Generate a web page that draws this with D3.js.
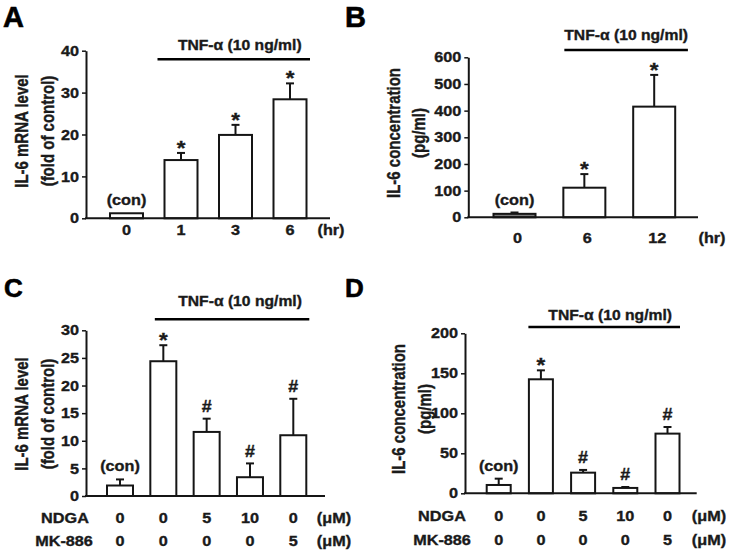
<!DOCTYPE html>
<html>
<head>
<meta charset="utf-8">
<script src="https://cdn.jsdelivr.net/npm/d3@7"></script>
<style>
  body { margin: 0; background: #fff; }
  svg text { font-family: "Liberation Sans", Arial, sans-serif; font-weight: bold; fill: #1a1a1a; stroke: #1a1a1a; stroke-width: 0.35px; }
</style>
</head>
<body>
<svg id="fig"></svg>
<script>
// ---- data ----
const catsA = ["0", "1", "3", "6"];
const meanA = [1.2, 13.9, 19.9, 28.4];
const sdA = [0, 1.7, 2.4, 3.8];
const marksA = ["(con)", "*", "*", "*"];
const ticksA = [0, 10, 20, 30, 40];

const catsB = ["0", "6", "12"];
const meanB = [13, 111, 415];
const sdB = [5, 51, 119];
const marksB = ["(con)", "*", "*"];
const ticksB = [0, 100, 200, 300, 400, 500, 600];

const ndga = ["0", "0", "5", "10", "0"];
const mk886 = ["0", "0", "0", "0", "5"];

const meanC = [1.9, 24.4, 11.6, 3.4, 11.0];
const sdC = [1.1, 2.9, 2.4, 2.5, 6.6];
const marksC = ["(con)", "*", "#", "#", "#"];
const ticksC = [0, 5, 10, 15, 20, 25, 30];

const meanD = [10.4, 142.5, 25.8, 6.7, 74.6];
const sdD = [7.9, 11.2, 3.4, 1.2, 8.3];
const marksD = ["(con)", "*", "#", "#", "#"];
const ticksD = [0, 50, 100, 150, 200];

const tnfLabel = "TNF-\u03b1 (10 ng/ml)";

// text in the source figure is slightly stretched horizontally
const SX = 1.12;

const svg = d3.select("#fig")
	.attr("width", 730)
	.attr("height", 552);

svg.append("rect").attr("width", 730).attr("height", 552).attr("fill", "#fff");

function label(g, x, y, str, size, anchor, rot, sx) {
	return g.append("text")
		.attr("transform", `translate(${x},${y}) scale(${sx || SX},1)` + (rot ? ` rotate(${rot})` : ""))
		.attr("text-anchor", anchor || "middle")
		.attr("font-size", size)
		.text(str);
}

// panel layout
const panels = [
	{
		letter: "A", letterPos: [3, 26.5], letterSize: 29,
		cats: catsA, mean: meanA, sd: sdA, marks: marksA, ticks: ticksA,
		axX: 86, axEnd: 330, y0: 218.3, yTop: 50.7, c0: 126.5, c1: 290, barW: 33,
		title: ["IL-6 mRNA level", "(fold of control)"], titleX: [21, 47], titleY: 131,
		tnf: { y: 59.3, lpad: 7, rpad: 3.5, textY: 50, dx: 6 },
		xRows: [{ y: 235, vals: catsA, unit: "(hr)", unitX: 331 }]
	},
	{
		letter: "B", letterPos: [345, 26.5], letterSize: 29,
		cats: catsB, mean: meanB, sd: sdB, marks: marksB, ticks: ticksB, conFill: "#7a7a7a",
		axX: 468.3, axEnd: 698, y0: 217.3, yTop: 57.3, c0: 514.5, c1: 654.2, barW: 42,
		title: ["IL-6 concentration", "(pg/ml)"], titleX: [393, 418.5], titleY: 133,
		tnf: { y: 50, lpad: -1, rpad: 12.7, textY: 40, dx: 0 },
		xRows: [{ y: 243, vals: catsB, unit: "(hr)", unitX: 712, dx: 3 }]
	},
	{
		letter: "C", letterPos: [4, 296.5], letterSize: 26,
		cats: d3.range(5).map(String), mean: meanC, sd: sdC, marks: marksC, ticks: ticksC,
		axX: 86, axEnd: 325, y0: 496, yTop: 330.3, c0: 120, c1: 293.3, barW: 26,
		title: ["IL-6 mRNA level", "(fold of control)"], titleX: [21, 47], titleY: 414,
		tnf: { y: 319.3, lpad: -4.5, rpad: 3, textY: 306, dx: 8 },
		xRows: [
			{ y: 523, vals: ndga, name: "NDGA", nameX: 65, unit: "(\u03bcM)", unitX: 334 },
			{ y: 546, vals: mk886, name: "MK-886", nameX: 64, unit: "(\u03bcM)", unitX: 334 }
		]
	},
	{
		letter: "D", letterPos: [345, 297], letterSize: 26,
		cats: d3.range(5).map(String), mean: meanD, sd: sdD, marks: marksD, ticks: ticksD,
		axX: 465, axEnd: 696.7, y0: 493.3, yTop: 333.3, c0: 498.7, c1: 667.5, barW: 24,
		title: ["IL-6 concentration", "(pg/ml)"], titleX: [398.5, 424], titleY: 409,
		tnf: { y: 327, lpad: 0.5, rpad: 0.5, textY: 320, dx: 6 },
		xRows: [
			{ y: 521, vals: ndga, name: "NDGA", nameX: 442, unit: "(\u03bcM)", unitX: 709 },
			{ y: 544.5, vals: mk886, name: "MK-886", nameX: 442, unit: "(\u03bcM)", unitX: 709 }
		]
	}
];

panels.forEach(drawPanel);

function drawPanel(p) {
	const g = svg.append("g");
	const n = p.cats.length;
	const step = (p.c1 - p.c0) / (n - 1);
	const pad = 1 - p.barW / step;

	const x = d3.scaleBand()
		.domain(p.cats)
		.range([p.c0 - step / 2, p.c1 + step / 2])
		.paddingInner(pad)
		.paddingOuter(pad / 2);

	const y = d3.scaleLinear()
		.domain([0, d3.max(p.ticks)])
		.range([p.y0, p.yTop]);

	const rows = p.cats.map((c, i) => ({ cat: c, mean: p.mean[i], sd: p.sd[i], mark: p.marks[i], i: i }));

	// panel letter
	g.append("text")
		.attr("x", p.letterPos[0])
		.attr("y", p.letterPos[1])
		.attr("font-size", p.letterSize)
		.style("fill", "#000")
		.style("stroke", "#000")
		.style("stroke-width", "0.6px")
		.text(p.letter);

	// bars
	g.selectAll(".bar")
		.data(rows)
		.join("rect")
		.attr("class", "bar")
		.attr("x", d => x(d.cat))
		.attr("width", x.bandwidth())
		.attr("y", d => y(d.mean))
		.attr("height", d => y(0) - y(d.mean))
		.attr("fill", d => (d.i === 0 && p.conFill) ? p.conFill : "#fff")
		.attr("stroke", "#151515")
		.attr("stroke-width", 2);

	// error bars (upper half only)
	const err = rows.filter(d => d.sd > 0);
	g.selectAll(".err")
		.data(err)
		.join("line")
		.attr("class", "err")
		.attr("x1", d => x(d.cat) + x.bandwidth() / 2)
		.attr("x2", d => x(d.cat) + x.bandwidth() / 2)
		.attr("y1", d => y(d.mean))
		.attr("y2", d => y(d.mean + d.sd))
		.attr("stroke", "#151515")
		.attr("stroke-width", 2);

	g.selectAll(".cap")
		.data(err)
		.join("line")
		.attr("class", "cap")
		.attr("x1", d => x(d.cat) + x.bandwidth() / 2 - 4)
		.attr("x2", d => x(d.cat) + x.bandwidth() / 2 + 4)
		.attr("y1", d => y(d.mean + d.sd))
		.attr("y2", d => y(d.mean + d.sd))
		.attr("stroke", "#151515")
		.attr("stroke-width", 2);

	// significance marks / (con)
	rows.forEach(d => {
		const top = y(d.mean + d.sd);
		const cx = x(d.cat) + x.bandwidth() / 2;
		if (d.mark === "*") label(g, cx, top + 2, "*", 20);
		else if (d.mark === "#") label(g, cx, top - 6.5, "#", 16);
		else label(g, cx, top - 8, d.mark, 14.5);
	});

	// y axis
	const yAxis = d3.axisLeft(y)
		.tickValues(p.ticks)
		.tickSize(4)
		.tickSizeOuter(0)
		.tickPadding(3);

	const yAxisG = g.append("g")
		.attr("transform", `translate(${p.axX},0)`)
		.call(yAxis);

	yAxisG.select(".domain").attr("stroke", "#151515").attr("stroke-width", 2);
	yAxisG.selectAll(".tick line").attr("stroke", "#151515").attr("stroke-width", 1.5);
	yAxisG.selectAll(".tick text")
		.attr("font-size", 14.5)
		.attr("fill", null)
		.each(function () {
			const t = d3.select(this);
			const tx = +t.attr("x");
			t.attr("x", 0).attr("transform", `translate(${tx},0) scale(${SX},1)`);
		});
	yAxisG.attr("font-family", null).attr("font-size", null);

	// x axis baseline
	g.append("line")
		.attr("x1", p.axX - 1)
		.attr("x2", p.axEnd)
		.attr("y1", y(0))
		.attr("y2", y(0))
		.attr("stroke", "#151515")
		.attr("stroke-width", 2);

	// y title
	p.title.forEach((t, i) => {
		label(g, p.titleX[i], p.titleY, t, 15, "middle", -90, 1.22).attr("dy", "0.36em");
	});

	// TNF bar
	const x0 = x(p.cats[1]) - p.tnf.lpad;
	const x1 = x(p.cats[n - 1]) + x.bandwidth() + p.tnf.rpad;
	g.append("line")
		.attr("x1", x0)
		.attr("x2", x1)
		.attr("y1", p.tnf.y)
		.attr("y2", p.tnf.y)
		.attr("stroke", "#000")
		.attr("stroke-width", 2.5);
	label(g, (x0 + x1) / 2 + p.tnf.dx, p.tnf.textY, tnfLabel, 14);

	// category rows
	p.xRows.forEach(r => {
		r.vals.forEach((v, i) => {
			label(g, x(p.cats[i]) + x.bandwidth() / 2 + (r.dx || 0), r.y, v, 14.5);
		});
		if (r.name) label(g, r.nameX, r.y, r.name, 14.5);
		label(g, r.unitX, r.y, r.unit, 14.5);
	});
}
</script>
</body>
</html>
